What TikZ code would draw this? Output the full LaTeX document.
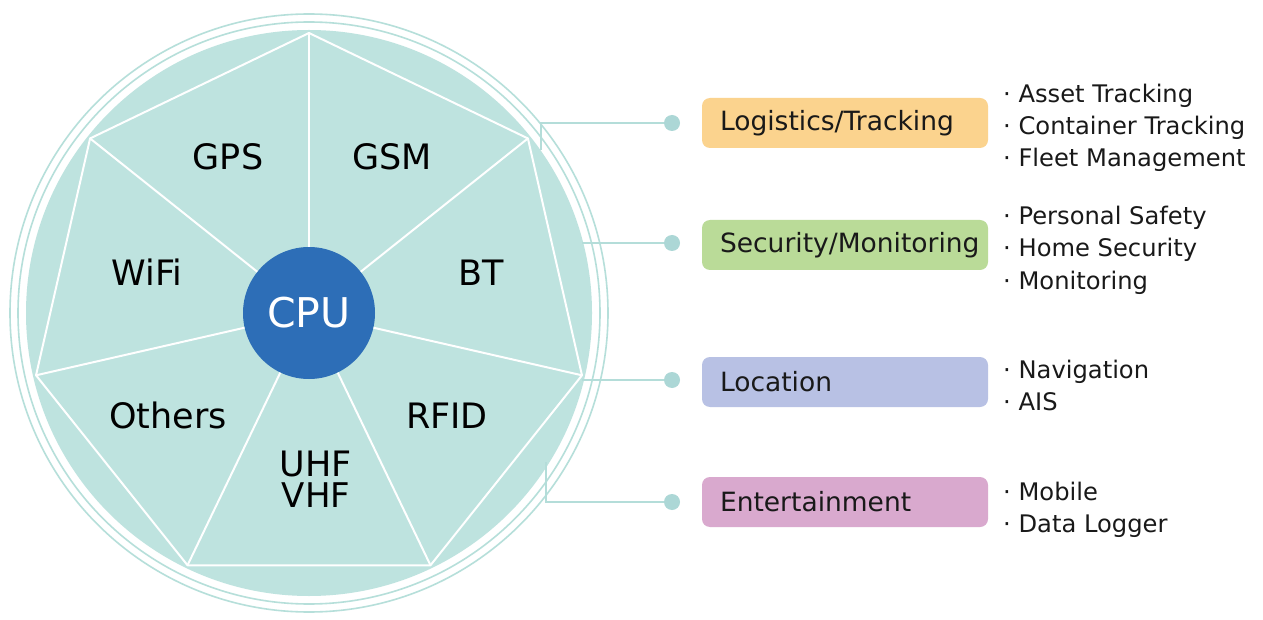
\documentclass[tikz,border=0pt]{standalone}
\usepackage{fontspec}
\setmainfont{DejaVu Sans}
\usetikzlibrary{calc}
\definecolor{tealfill}{RGB}{190,227,223}
\definecolor{ringc}{RGB}{182,223,218}
\definecolor{cpublue}{RGB}{45,110,183}
\definecolor{connc}{RGB}{180,221,217}
\definecolor{dotc}{RGB}{172,215,214}
\definecolor{orangeb}{RGB}{251,211,142}
\definecolor{greenb}{RGB}{186,219,152}
\definecolor{blueb}{RGB}{184,193,228}
\definecolor{pinkb}{RGB}{217,169,206}
\begin{document}
\begin{tikzpicture}[x=1pt,y=-1pt,
  seglabel/.style={anchor=base,inner sep=0pt,font=\fontsize{35}{40}\selectfont,text=black},
  catbox/.style={rounded corners=8pt,minimum width=286pt,minimum height=50pt,inner xsep=18pt,
    text width=250pt,align=left,font=\fontsize{26.5}{30}\selectfont,text=black!90},
  item/.style={anchor=base west,inner sep=0pt,font=\fontsize{24.2}{28}\selectfont,text=black!90},
  dotnode/.style={circle,fill=dotc,minimum size=16pt,inner sep=0pt},
  conn/.style={draw=connc,line width=2pt},
  spoke/.style={draw=white,line width=2pt}]
\useasboundingbox (0,0) rectangle (1263,620);
\fill[white] (0,0) rectangle (1263,620);
\coordinate (c) at (309,313);
% rings and fill
\draw[ringc,line width=1.6pt] (c) circle (291pt);
\draw[ringc,line width=1.6pt] (c) circle (299pt);
\fill[tealfill] (c) circle (283pt);
% heptagon vertices
\foreach \i in {0,...,6}{
  \coordinate (v\i) at ($(c)+({90-\i*360/7}:280pt)$);
}
\draw[spoke,line join=round] (v0)--(v1)--(v2)--(v3)--(v4)--(v5)--(v6)--cycle;
\node[circle,fill=cpublue,minimum size=132pt,inner sep=0pt,text=white,font=\fontsize{41}{41}\selectfont] (cpu) at (c) {CPU};
\foreach \i in {0,...,6}{
  \draw[spoke] (cpu) -- (v\i);
}
% segment labels
\node[seglabel] (gps) at (228,170) {GPS};
\node[seglabel] (gsm) at (392,170) {GSM};
\node[seglabel] (bt) at (481,286) {BT};
\node[seglabel] (wifi) at (147,286) {WiFi};
\node[seglabel] (others) at (168,428) {Others};
\node[seglabel] (rfid) at (447,428) {RFID};
\node[seglabel] (uhf) at (316,476) {UHF};
\node[seglabel,font=\fontsize{34}{36}\selectfont] (vhf) at (316,507) {VHF};
% connectors
\coordinate (s1) at (541,150);
\coordinate (s2) at (582,243);
\coordinate (s3) at (582,380);
\coordinate (s4) at (546,462);
\node[dotnode] (d1) at (672,123) {};
\node[dotnode] (d2) at (672,243) {};
\node[dotnode] (d3) at (672,380) {};
\node[dotnode] (d4) at (672,502) {};
\draw[conn] (s1) |- (d1);
\draw[conn] (s2) -- (d2);
\draw[conn] (s3) -- (d3);
\draw[conn] (s4) |- (d4);
% category boxes
\node[catbox,fill=orangeb] (b1) at (845,123) {Logistics/Tracking};
\node[catbox,fill=greenb] (b2) at (845,245) {Security/Monitoring};
\node[catbox,fill=blueb] (b3) at (845,382) {Location};
\node[catbox,fill=pinkb] (b4) at (845,502) {Entertainment};
% items
\node[item] (i11) at (1003,103) {· Asset Tracking};
\node[item] (i12) at (1003,135) {· Container Tracking};
\node[item] (i13) at (1003,167) {· Fleet Management};
\node[item] (i21) at (1003,225) {· Personal Safety};
\node[item] (i22) at (1003,257) {· Home Security};
\node[item] (i23) at (1003,290) {· Monitoring};
\node[item] (i31) at (1003,378) {· Navigation};
\node[item] (i32) at (1003,410) {· AIS};
\node[item] (i41) at (1003,500) {· Mobile};
\node[item] (i42) at (1003,532) {· Data Logger};
\end{tikzpicture}
\end{document}
